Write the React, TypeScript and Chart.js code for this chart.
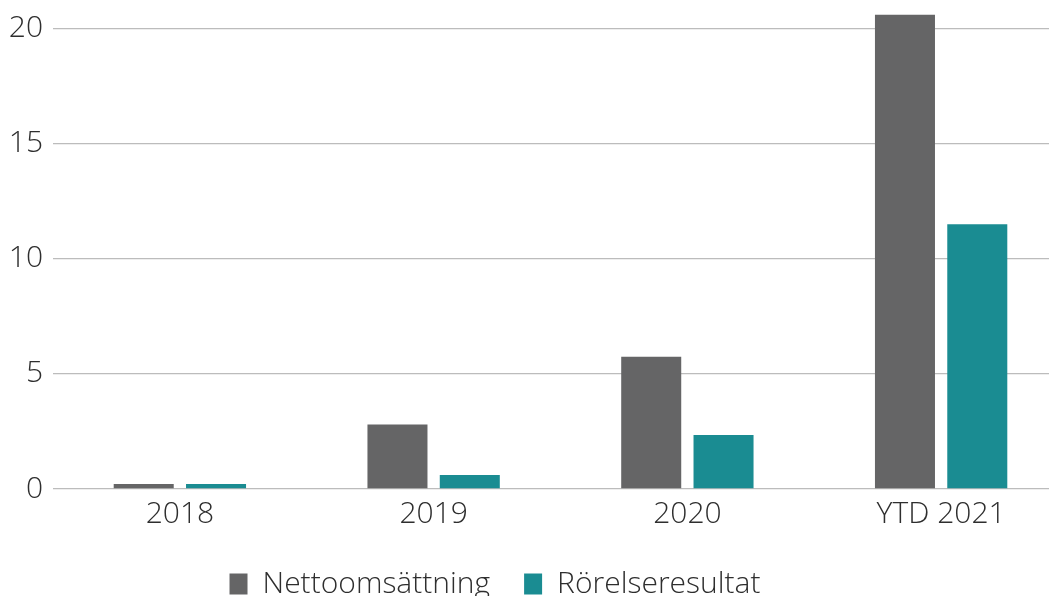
import React, { useEffect, useRef } from "react";
import { Chart, registerables } from "chart.js";

Chart.register(...registerables);

const categories = ["2018", "2019", "2020", "YTD 2021"];
const seriesNames = ["Nettoomsättning", "Rörelseresultat"];
const nettoomsattning = [0.22, 2.8, 5.75, 20.6];
const rorelseresultat = [0.22, 0.61, 2.35, 11.5];
const yTicks = [0, 5, 10, 15, 20];

const GRAY = "#656566";
const TEAL = "#1a8c92";
const TEXT = "#2e2e2e";
const FONT = "'Open Sans', 'Noto Sans', sans-serif";

export default function App() {
  const ref = useRef<HTMLCanvasElement | null>(null);

  useEffect(() => {
    document.body.style.margin = "0";
    const canvas = ref.current;
    if (!canvas) return;
    const legendShift = {
      id: "legendShift",
      afterUpdate(chart: any) {
        const lg = chart.legend;
        if (lg) {
          lg.left = 0;
          lg.right = 990;
          lg.top -= 4;
          lg.bottom -= 4;
          lg.adjustHitBoxes();
        }
      },
    };
    const chart = new Chart(canvas, {
      type: "bar",
      data: {
        labels: categories,
        datasets: [
          {
            label: seriesNames[0],
            data: nettoomsattning,
            backgroundColor: GRAY,
            barPercentage: 0.83,
            categoryPercentage: 0.57,
          },
          {
            label: seriesNames[1],
            data: rorelseresultat,
            backgroundColor: TEAL,
            barPercentage: 0.83,
            categoryPercentage: 0.57,
          },
        ],
      },
      options: {
        animation: false,
        responsive: false,
        maintainAspectRatio: false,
        layout: { padding: { left: 9, right: 7, top: 1, bottom: 0 } },
        plugins: {
          tooltip: { enabled: false },
          legend: {
            position: "bottom",
            labels: {
              boxWidth: 18,
              boxHeight: 21,
              padding: 34,
              color: TEXT,
              font: { family: FONT, size: 30, weight: "300" as any },
            },
          },
        },
        scales: {
          x: {
            grid: { display: false, drawTicks: false },
            border: { display: false },
            ticks: {
              padding: 7,
              color: TEXT,
              font: { family: FONT, size: 30, weight: "300" as any },
            },
          },
          y: {
            min: 0,
            max: 21.2,
            afterBuildTicks(scale: any) {
              scale.ticks = yTicks.map((v) => ({ value: v }));
            },
            afterFit(scale: any) {
              scale.paddingTop = 0;
              scale.width = 44;
            },
            grid: { color: "#bcbcbc", lineWidth: 1.3, drawTicks: false },
            border: { display: false },
            ticks: {
              padding: 10,
              color: TEXT,
              font: { family: FONT, size: 30, weight: "300" as any },
            },
          },
        },
      },
      plugins: [legendShift],
    });
    return () => chart.destroy();
  }, []);

  return (
    <div style={{ width: 1049, height: 596, overflow: "hidden", position: "relative" }}>
      <canvas ref={ref} width={1075} height={613} style={{ display: "block" }} />
    </div>
  );
}
